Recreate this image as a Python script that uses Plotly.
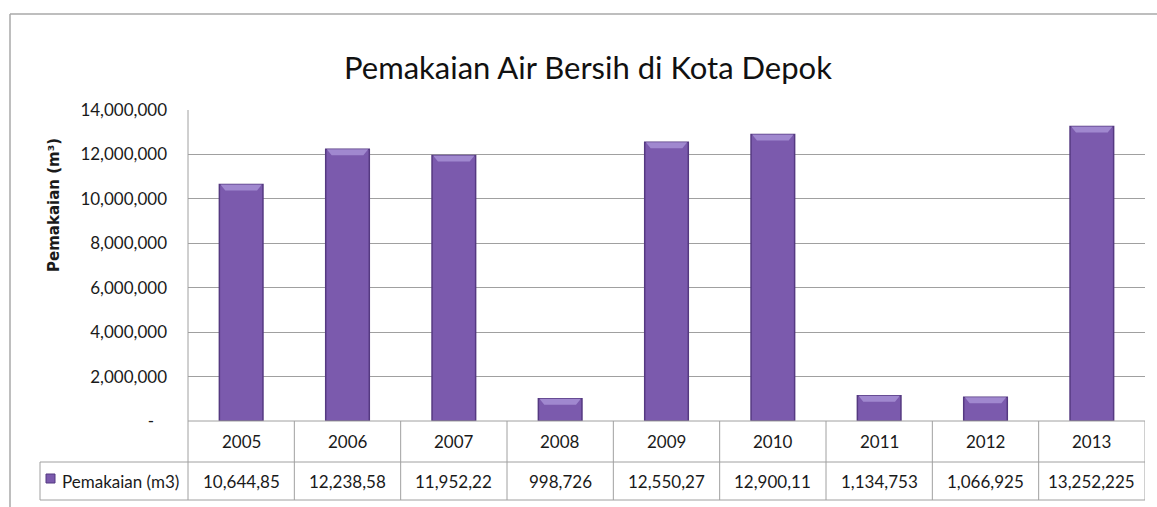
import plotly.graph_objects as go

# Water usage in Depok by year (m3)
years = ["2005", "2006", "2007", "2008", "2009", "2010", "2011", "2012", "2013"]
usage = [10644850, 12238580, 11952220, 998726, 12550270, 12900110, 1134753, 1066925, 13252225]
table_text = ["10,644,85", "12,238,58", "11,952,22", "998,726", "12,550,27",
              "12,900,11", "1,134,753", "1,066,925", "13,252,225"]
tick_vals = [0, 2000000, 4000000, 6000000, 8000000, 10000000, 12000000, 14000000]
tick_text = ["-\u00a0\u00a0\u00a0", "2,000,000", "4,000,000", "6,000,000", "8,000,000",
             "10,000,000", "12,000,000", "14,000,000"]
series_name = "Pemakaian (m3)"

W, H = 1157, 507
BAR = "#7B5AAD"
BAR_EDGE = "#553981"
BEVEL = "#A088CF"
GRID = "#A0A0A0"
TXT = "#1A1A1A"
FONT = "Lato, Carlito, Calibri, sans-serif"
BAR_W = 0.41
Y_MAX = 14000000


def px(x):
    return x / W


def py(y):
    return 1 - y / H


fig = go.Figure()
fig.add_trace(go.Bar(
    x=years, y=usage, width=BAR_W, name=series_name,
    marker=dict(color=BAR, line=dict(color=BAR_EDGE, width=1.5)),
    showlegend=False,
))

plot_left, plot_right, plot_top, plot_bottom = 188, 1145, 110, 421
row_mid, table_bottom, legend_left = 462, 500, 40

shapes = []
line = dict(color=GRID, width=1)
# outer chart border
shapes.append(dict(type="line", xref="paper", yref="paper", x0=px(10), x1=px(10),
                   y0=py(14), y1=py(H), line=dict(color="#A8A8A8", width=1.5)))
shapes.append(dict(type="line", xref="paper", yref="paper", x0=px(10), x1=1,
                   y0=py(14), y1=py(14), line=dict(color="#A8A8A8", width=1.5)))
# data table grid
shapes.append(dict(type="line", xref="paper", yref="paper", x0=px(plot_left), x1=px(plot_right),
                   y0=py(plot_bottom), y1=py(plot_bottom), line=line))
for yy in (row_mid, table_bottom):
    shapes.append(dict(type="line", xref="paper", yref="paper", x0=px(legend_left), x1=px(plot_right),
                       y0=py(yy), y1=py(yy), line=line))
shapes.append(dict(type="line", xref="paper", yref="paper", x0=px(legend_left), x1=px(legend_left),
                   y0=py(row_mid), y1=py(table_bottom), line=line))
shapes.append(dict(type="line", xref="paper", yref="paper", x0=px(plot_left), x1=px(plot_left),
                   y0=py(plot_top), y1=py(table_bottom), line=line))
for i in range(1, len(years) + 1):
    shapes.append(dict(type="line", xref="x", yref="paper", x0=i - 0.5, x1=i - 0.5,
                       y0=py(plot_bottom), y1=py(table_bottom), line=line))

# lighter bevel along the top of each bar
bevel_h = Y_MAX * 6 / (plot_bottom - plot_top)
inset = BAR_W * 6 / 44
for i, v in enumerate(usage):
    x0, x1 = i - BAR_W / 2, i + BAR_W / 2
    path = (f"M {x0 + 0.01},{v} L {x1 - 0.01},{v} L {x1 - inset},{v - bevel_h} "
            f"L {x0 + inset},{v - bevel_h} Z")
    shapes.append(dict(type="path", xref="x", yref="y", path=path,
                       fillcolor=BEVEL, line=dict(width=0), layer="above"))

# legend key
shapes.append(dict(type="rect", xref="paper", yref="paper", x0=px(46), x1=px(55),
                   y0=py(483), y1=py(474), fillcolor=BAR, line=dict(color=BAR_EDGE, width=1)))

annotations = []
for i, (yr, t) in enumerate(zip(years, table_text)):
    annotations.append(dict(x=i, xref="x", y=py((plot_bottom + row_mid) / 2), yref="paper",
                            yanchor="middle", text=yr, showarrow=False,
                            font=dict(family=FONT, size=17, color=TXT)))
    annotations.append(dict(x=i, xref="x", y=py((row_mid + table_bottom) / 2), yref="paper",
                            yanchor="middle", text=t, showarrow=False,
                            font=dict(family=FONT, size=17, color=TXT)))
annotations.append(dict(x=px(60), xref="paper", xanchor="left", y=py((row_mid + table_bottom) / 2),
                        yref="paper", yanchor="middle", text=series_name, showarrow=False,
                        font=dict(family=FONT, size=17, color=TXT)))
annotations.append(dict(x=px(54), xref="paper", xanchor="center", y=py(205), yref="paper",
                        yanchor="middle", textangle=-90,
                        text="<b>Pemakaian (m³)</b>", showarrow=False,
                        font=dict(family="DejaVu Sans", size=15, color=TXT)))
annotations.append(dict(x=px(588), xref="paper", xanchor="center", y=py(67), yref="paper",
                        yanchor="middle", text="Pemakaian Air Bersih di Kota Depok",
                        showarrow=False, font=dict(family=FONT, size=31, color="#111111")))

fig.update_layout(
    template="none",
    width=W, height=H, autosize=False,
    margin=dict(l=0, r=0, t=0, b=0, pad=0),
    paper_bgcolor="white", plot_bgcolor="white",
    xaxis=dict(type="category", domain=[px(plot_left), px(plot_right)],
               range=[-0.5, len(years) - 0.5], automargin=False,
               showticklabels=False, showgrid=False, zeroline=False, showline=False, ticks=""),
    yaxis=dict(domain=[py(plot_bottom), py(plot_top)], range=[0, Y_MAX], automargin=False,
               tickvals=tick_vals, ticktext=tick_text, showgrid=True, gridcolor=GRID,
               gridwidth=1, zeroline=False, showline=False, ticks="", ticklabelstandoff=20,
               tickfont=dict(family=FONT, size=17, color=TXT)),
    shapes=shapes, annotations=annotations,
)

fig.write_html("out.html")
